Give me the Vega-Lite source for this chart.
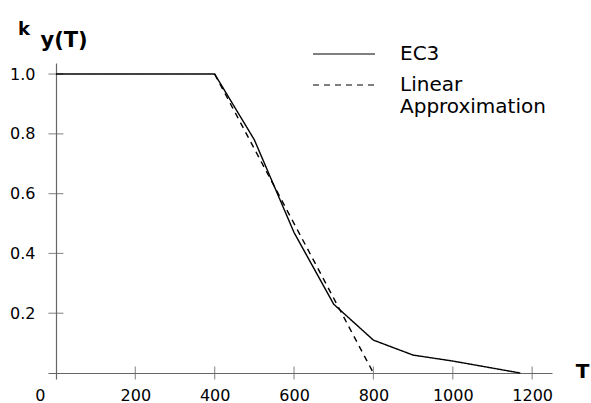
{
  "$schema": "https://vega.github.io/schema/vega-lite/v6.json",
  "width": 504,
  "height": 316,
  "autosize": "none",
  "padding": {"left": 48, "top": 63, "right": 39, "bottom": 24},
  "background": "white",
  "config": {"view": {"stroke": null}, "font": "DejaVu Sans"},
  "title": {"text": "k", "anchor": "start", "frame": "group", "fontSize": 18, "fontWeight": "bold", "font": "DejaVu Sans", "color": "#000", "baseline": "alphabetic", "offset": 0, "dy": 24, "dx": -30},
  "datasets": {
    "curves": [
      {"series": "EC3", "T": 0, "k": 1.0},
      {"series": "EC3", "T": 400, "k": 1.0},
      {"series": "EC3", "T": 500, "k": 0.78},
      {"series": "EC3", "T": 600, "k": 0.47},
      {"series": "EC3", "T": 700, "k": 0.23},
      {"series": "EC3", "T": 800, "k": 0.11},
      {"series": "EC3", "T": 900, "k": 0.06},
      {"series": "EC3", "T": 1000, "k": 0.04},
      {"series": "EC3", "T": 1170, "k": 0.0},
      {"series": "Linear Approximation", "T": 400, "k": 1.0},
      {"series": "Linear Approximation", "T": 800, "k": 0.0}
    ],
    "xticks": [
      {"T": 200, "k": 0}, {"T": 400, "k": 0}, {"T": 600, "k": 0}, {"T": 800, "k": 0}, {"T": 1000, "k": 0}, {"T": 1200, "k": 0}
    ],
    "yticks": [
      {"T": 0, "k": 0.2}, {"T": 0, "k": 0.4}, {"T": 0, "k": 0.6}, {"T": 0, "k": 0.8}, {"T": 0, "k": 1.0}
    ]
  },
  "encoding": {
    "x": {
      "field": "T", "type": "quantitative",
      "scale": {"domain": [-20, 1250], "nice": false, "zero": false},
      "axis": {
        "title": "T", "values": [0, 200, 400, 600, 800, 1000, 1200], "format": "d",
        "offset": -6, "ticks": false, "tickSize": 0, "grid": false,
        "domainColor": "#666", "domainWidth": 1.2,
        "labelFont": "DejaVu Sans", "labelFontSize": 16, "labelColor": "#000", "labelPadding": 14, "labelBaseline": "top",
        "labelOffset": {"condition": {"test": "datum.value == 0", "value": -16}, "value": 0},
        "labelFlush": false, "labelOverlap": false,
        "titleFont": "DejaVu Sans", "titleFontSize": 20, "titleFontWeight": "bold", "titleColor": "#000",
        "titleX": 534, "titleY": 4, "titleAlign": "center", "titleBaseline": "alphabetic", "titleAngle": 0
      }
    },
    "y": {
      "field": "k", "type": "quantitative",
      "scale": {"domain": [-0.02, 1.037], "nice": false, "zero": false},
      "axis": {
        "title": "y(T)", "values": [0.2, 0.4, 0.6, 0.8, 1.0], "format": ".1f",
        "offset": -8, "ticks": false, "tickSize": 0, "grid": false,
        "domainColor": "#666", "domainWidth": 1.2,
        "labelFont": "DejaVu Sans", "labelFontSize": 16, "labelColor": "#000", "labelPadding": 21,
        "labelOverlap": false,
        "titleFont": "DejaVu Sans", "titleFontSize": 21, "titleFontWeight": "bold", "titleColor": "#000",
        "titleAngle": 0, "titleX": -16, "titleY": -17, "titleAlign": "left", "titleBaseline": "alphabetic"
      }
    }
  },
  "layer": [
    {
      "data": {"name": "yticks"},
      "mark": {"type": "tick", "orient": "horizontal", "size": 15, "thickness": 1.2, "color": "#666"}
    },
    {
      "data": {"name": "xticks"},
      "mark": {"type": "tick", "orient": "vertical", "size": 13, "thickness": 1.2, "color": "#666"}
    },
    {
      "data": {"name": "curves"},
      "mark": {"type": "line", "color": "#000", "strokeWidth": 1.4},
      "encoding": {
        "strokeDash": {
          "field": "series", "type": "nominal",
          "scale": {"domain": ["EC3", "Linear Approximation"], "range": [[1, 0], [6, 5]]},
          "legend": {
            "title": null, "orient": "none", "legendX": 286, "legendY": -19, "padding": 0,
            "symbolType": "M-31,0H31", "symbolSize": 4, "symbolStrokeWidth": 1.2, "symbolStrokeColor": "#000",
            "labelFont": "DejaVu Sans", "labelFontSize": 20, "labelColor": "#000", "labelOffset": 46, "labelLimit": 300,
            "rowPadding": 11,
            "labelExpr": "datum.label == 'Linear Approximation' ? ['Linear', 'Approximation'] : [datum.label]"
          }
        }
      }
    }
  ]
}
